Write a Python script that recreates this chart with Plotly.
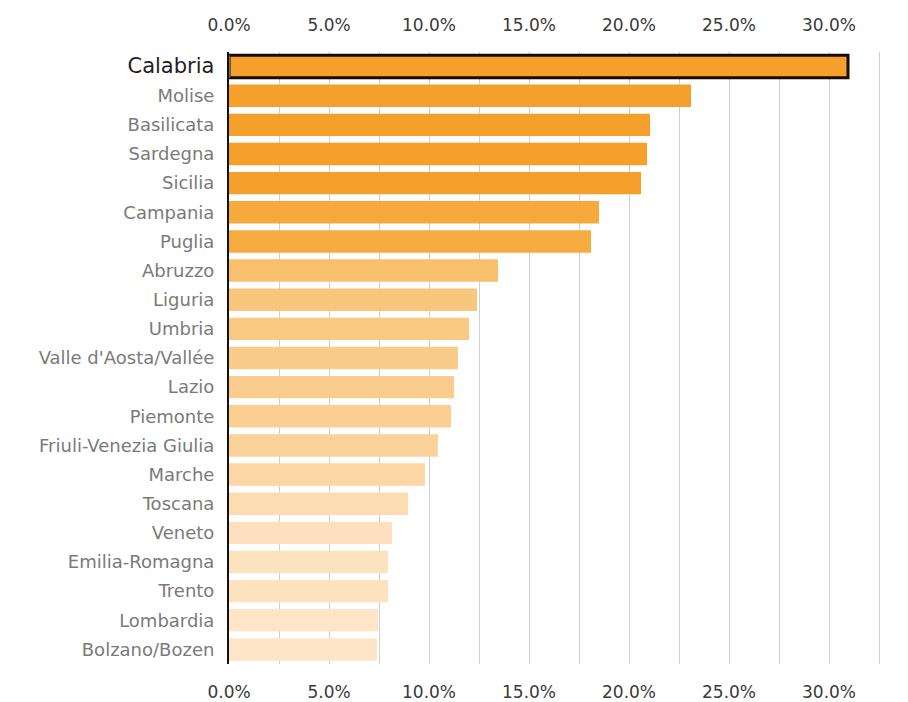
import plotly.graph_objects as go

regions = ["Calabria", "Molise", "Basilicata", "Sardegna", "Sicilia", "Campania", "Puglia",
           "Abruzzo", "Liguria", "Umbria", "Valle d'Aosta/Vallée", "Lazio", "Piemonte",
           "Friuli-Venezia Giulia", "Marche", "Toscana", "Veneto", "Emilia-Romagna",
           "Trento", "Lombardia", "Bolzano/Bozen"]
values = [30.95, 23.1, 21.05, 20.9, 20.6, 18.5, 18.1,
          13.45, 12.4, 12.0, 11.45, 11.25, 11.1,
          10.45, 9.8, 8.95, 8.15, 7.95,
          7.95, 7.45, 7.4]
highlight = "Calabria"
x_ticks = [0, 5, 10, 15, 20, 25, 30]

ticktext = [
    f"<span style='font-size:21px;color:#1e1e1e'>{r}</span>" if r == highlight else r
    for r in regions
]

fig = go.Figure()
fig.add_trace(go.Bar(
    y=regions, x=values, orientation="h",
    marker=dict(
        color=values,
        colorscale=[[0, "#FEE5C8"], [0.5, "#F8BD66"], [1, "#F5A02A"]],
        cmin=7.4, cmax=20.5,
        line=dict(color=["#1a0a00" if r == highlight else "rgba(0,0,0,0)" for r in regions],
                  width=[3 if r == highlight else 0 for r in regions]),
    ),
    hoverinfo="x+y",
    showlegend=False,
))

axis_common = dict(
    range=[0, 33.95],
    tickvals=x_ticks,
    ticktext=[f"{v:.1f}%" for v in x_ticks],
    tickfont=dict(family="DejaVu Sans", size=17, color="#3a3a3a"),
    showline=False, zeroline=False,
    fixedrange=True, automargin=False,
)

fig.update_layout(
    width=900, height=694,
    margin=dict(l=221, r=0, t=44, b=38, autoexpand=False),
    paper_bgcolor="white", plot_bgcolor="white",
    bargap=0.23,
    xaxis=dict(
        **axis_common,
        side="bottom",
        showgrid=True, gridcolor="#cfcfcf", gridwidth=1,
        minor=dict(dtick=2.5, tick0=0, showgrid=True, gridcolor="#cfcfcf", gridwidth=1),
        ticks="", ticklabelstandoff=16,
    ),
    xaxis2=dict(
        **axis_common,
        side="top", overlaying="x", matches="x",
        showgrid=False, ticks="", ticklabelstandoff=17,
    ),
    yaxis=dict(
        categoryorder="array", categoryarray=regions,
        autorange="reversed",
        tickvals=regions, ticktext=ticktext,
        tickfont=dict(family="DejaVu Sans", size=18, color="#7a7a7a"),
        showline=True, linecolor="#111111", linewidth=2,
        ticks="", ticklabelstandoff=9,
        showgrid=False, automargin=False,
    ),
)

# invisible trace to activate the top axis
fig.add_trace(go.Bar(y=[regions[0]], x=[0], orientation="h", xaxis="x2",
                     marker=dict(color="rgba(0,0,0,0)"), showlegend=False, hoverinfo="skip"))

fig.write_html("out.html")
